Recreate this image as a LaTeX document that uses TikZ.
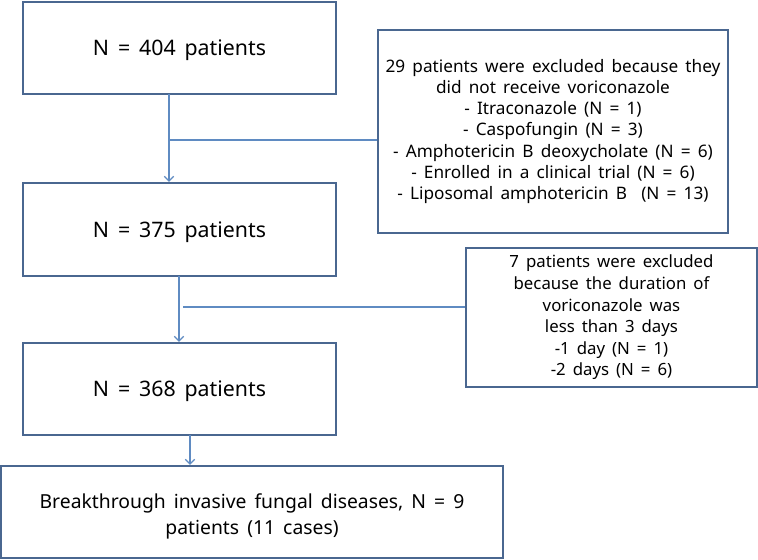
\documentclass[tikz,border=0pt]{standalone}
\usepackage{fontspec}
\setmainfont{Noto Sans}
\newfontfamily\mainf{Noto Sans}[WordSpace=2.6]
\newfontfamily\exf{Noto Sans}[WordSpace=1.6]
\usetikzlibrary{arrows.meta,calc}
\definecolor{boxc}{HTML}{4A6790}
\definecolor{linec}{HTML}{5F8BC2}
\newcommand{\px}{0.75pt}
\begin{document}
\begin{tikzpicture}[x=0.75pt,y=-0.75pt,
  anybox/.style={draw=boxc,line width=2.2pt*0.75,inner sep=0pt,align=center},
  mainbox/.style={anybox,minimum width=313*\px,text depth=0pt,font=\mainf\fontsize{16}{19.5}\selectfont},
  lastbox/.style={anybox,font=\mainf\fontsize{14.5}{19.5}\selectfont},
  exbox/.style={anybox,font=\exf\fontsize{12.9}{15.8}\selectfont},
  exboxb/.style={anybox,font=\exf\fontsize{12.6}{16.2}\selectfont},
  conn/.style={draw=linec,line width=0.9pt},
  arr/.style={conn,-{Straight Barb[length=3.5pt,width=7pt]}}]
\useasboundingbox[fill=white] (0,0) rectangle (758,560);
\node[mainbox,minimum height=92*\px] (b1) at (179.5,48) {N = 404 patients};
\node[mainbox,minimum height=93*\px] (b2) at (179.5,229.5) {N = 375 patients};
\node[mainbox,minimum height=92*\px] (b3) at (179.5,389) {N = 368 patients};
\node[lastbox,minimum width=502*\px,minimum height=92*\px] (b4) at (252,512) {\rule{0pt}{17pt}Breakthrough invasive fungal diseases, N = 9\\patients (11 cases)};
\node[exbox,minimum width=350*\px,minimum height=203*\px] (e1) at (553,131.5) {29 patients were excluded because they\\did not receive voriconazole\\- Itraconazole (N = 1)\\- Caspofungin (N = 3)\\- Amphotericin B deoxycholate (N = 6)\\- Enrolled in a clinical trial (N = 6)\\- Liposomal amphotericin B\ \ (N = 13)};
\node[exboxb,minimum width=291*\px,minimum height=139*\px] (e2) at (611.5,317.5) {7 patients were excluded\\because the duration of\\voriconazole was\\less than 3 days\\-1 day (N = 1)\\-2 days (N = 6)};
% connectors
\coordinate (t1) at (169,94);
\coordinate (t2) at (179,276);
\coordinate (t3) at (190,435);
\draw[arr] (t1) -- (t1 |- b2.north);
\draw[conn] (t1 |- 0,140) -- (e1.west |- 0,140);
\draw[arr] (t2) -- (t2 |- b3.north);
\draw[conn] (183,307) -- (e2.west |- 0,307);
\draw[arr] (t3) -- (t3 |- b4.north);
\end{tikzpicture}
\end{document}
